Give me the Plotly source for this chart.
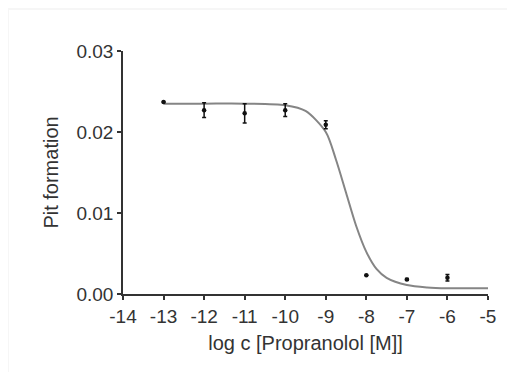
import plotly.graph_objects as go

# Measured data (mean ± error)
log_conc = [-13, -12, -11, -10, -9, -8, -7, -6]
pit_mean = [0.0237, 0.0227, 0.0223, 0.0227, 0.0209, 0.0023, 0.0018, 0.0020]
pit_err = [0.0, 0.0009, 0.0012, 0.0008, 0.0005, 0.0, 0.0001, 0.0004]

# Fitted curve
curve_x = [-13, -12, -11, -10, -9.5, -9, -8.75, -8.5, -8.25, -8, -7.75, -7.5, -7, -6.5, -6, -5.5, -5]
curve_y = [0.0235, 0.0235, 0.0235, 0.0233, 0.0226, 0.0200, 0.0166, 0.0125, 0.0084, 0.0052, 0.0031, 0.0020, 0.0011, 0.0008, 0.0007, 0.0007, 0.0007]

x_ticks = [-14, -13, -12, -11, -10, -9, -8, -7, -6, -5]
y_ticks = [0.0, 0.01, 0.02, 0.03]
y_tick_labels = ["0.00", "0.01", "0.02", "0.03"]

fig = go.Figure()
fig.add_trace(go.Scatter(
    x=curve_x, y=curve_y, mode="lines", line=dict(color="#858585", width=2, shape="spline", smoothing=0.8),
    hoverinfo="skip", showlegend=False))
fig.add_trace(go.Scatter(
    x=log_conc, y=pit_mean, mode="markers",
    marker=dict(color="#111111", size=4.5),
    error_y=dict(type="data", array=pit_err, visible=True, color="#111111", thickness=1.5, width=2),
    showlegend=False))

tick_font = dict(family="Liberation Sans, Arial, sans-serif", size=19, color="#333333")
title_font = dict(family="Liberation Sans, Arial, sans-serif", size=20, color="#333333")
fig.update_layout(
    width=515, height=372,
    margin=dict(l=115, r=35, t=43, b=86),
    paper_bgcolor="#f6f6f6", plot_bgcolor="white",
    font=tick_font,
    xaxis=dict(range=[-14, -5], tickvals=x_ticks, ticktext=[str(v) for v in x_ticks],
               tickfont=tick_font,
               showgrid=False, zeroline=False, showline=True, linecolor="#333333", linewidth=1.5,
               ticks="outside", ticklen=4, tickwidth=1.5, tickcolor="#333333",
               title=dict(text="log c [Propranolol [M]]", font=title_font, standoff=10)),
    yaxis=dict(range=[0, 0.03], tickvals=y_ticks, ticktext=y_tick_labels,
               tickfont=tick_font,
               showgrid=False, zeroline=False, showline=True, linecolor="#333333", linewidth=1.5,
               ticks="outside", ticklen=4, tickwidth=1.5, tickcolor="#333333",
               title=dict(text="Pit formation", font=title_font, standoff=12)),
    shapes=[dict(type="rect", xref="paper", yref="paper", x0=-0.3123, x1=1.5, y0=-1.0, y1=1.1687,
                 fillcolor="white", line=dict(width=0), layer="below")],
)

fig.write_html("out.html")
